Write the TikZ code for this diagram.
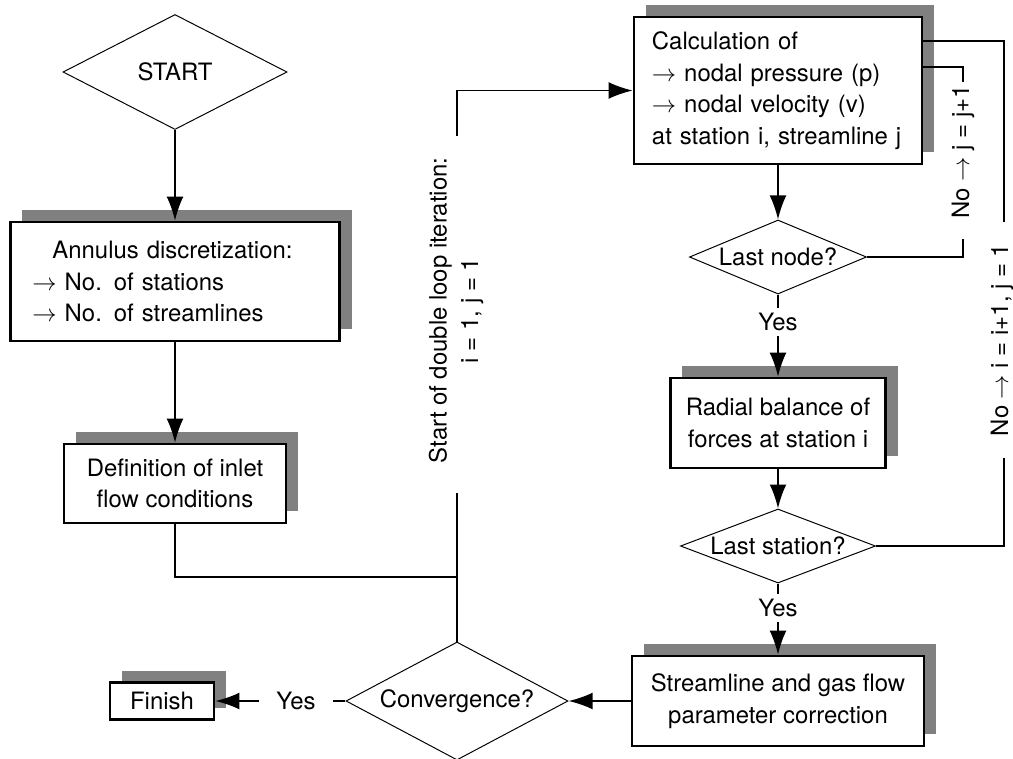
\documentclass[tikz,border=0pt]{standalone}
\usepackage{fontspec}
\setmainfont{TeX Gyre Heros}
\usepackage{tikz}
\usetikzlibrary{arrows.meta,shapes.geometric,shadows,calc}
\definecolor{shadowgray}{HTML}{808080}

\begin{document}
\begin{tikzpicture}
	[
	x=0.025cm, y=-0.025cm,
	every node/.style={font=\fontsize{17}{22.5}\selectfont},
	box/.style={
		draw,
		line width=1.8pt,
		fill=white,
		align=center,
		inner sep=0pt,
		drop shadow={shadow xshift=0.3cm, shadow yshift=0.3cm, fill=shadowgray, opacity=1}
	},
	decision/.style={
		draw,
		diamond,
		line width=0.7pt,
		fill=white,
		inner sep=0pt
	},
	note/.style={
		inner sep=3.5pt
	},
	line/.style={
		line width=1.3pt
	},
	arrow/.style={
		-{Latex[length=6mm,width=4.2mm]},
		line width=1.3pt
	}
	]
	
	\useasboundingbox (0,0) rectangle (1013,758);
	
	% Set-up branch
	\node[decision, aspect=1.95, minimum width=5.6cm, minimum height=2.875cm] (start) at (175,72)
	{START};
	
	\node[box, minimum height=2.975cm, text width=7.125cm, inner xsep=0.55cm, align=left] (annulus) at (175,281.5)
	{\hspace*{0.5cm}Annulus discretization:\\ $\rightarrow$ No. of stations\\ $\rightarrow$ No. of streamlines};
	
	\node[box, minimum width=5.55cm, minimum height=1.975cm] (inlet) at (175,483.5)
	{Definition of inlet\\ flow conditions};
	
	% Double loop branch
	\node[box, minimum height=3.675cm, text width=6.3cm, inner xsep=0.45cm, align=left] (calc) at (778,90.5)
	{Calculation of\\ $\rightarrow$ nodal pressure (p)\\ $\rightarrow$ nodal velocity (v)\\ at station i, streamline j};
	
	\node[decision, aspect=2.39, minimum width=4.425cm, minimum height=1.85cm] (lastnode) at (778,257)
	{Last node?};
	
	\node[note] (yes_node) at (778,322)
	{Yes};
	
	\node[box, minimum width=5.375cm, minimum height=2.25cm] (radial) at (778,423)
	{Radial balance of\\ forces at station i};
	
	\node[decision, aspect=2.64, minimum width=4.875cm, minimum height=1.85cm] (laststation) at (778,546)
	{Last station?};
	
	\node[note] (yes_station) at (778,608)
	{Yes};
	
	\node[box, minimum width=7.3cm, minimum height=2.25cm] (correction) at (778,701)
	{Streamline and gas flow\\ parameter correction};
	
	% Exit
	\node[decision, aspect=1.88, minimum width=5.55cm, minimum height=2.95cm] (convergence) at (457,701)
	{Convergence?};
	
	\node[note, inner xsep=12pt] (yes_conv) at (296,701)
	{Yes};
	
	\node[box, minimum width=2.6cm, minimum height=0.925cm] (finish) at (162,701)
	{Finish};
	
	% Loop labels
	\node[rotate=90, align=center] (loop_start) at (456,310.5)
	{Start of double loop iteration:\\ i = 1, j = 1};
	
	\node[rotate=90] (next_node) at (963,152)
	{No $\rightarrow$ j = j+1};
	
	\node[rotate=90] (next_station) at (1002,340)
	{No $\rightarrow$ i = i+1, j = 1};
	
	\coordinate (loop_join) at (457,577);
	\coordinate (loop_low) at (457,493);
	\coordinate (loop_high) at (457,136);
	\coordinate (node_low) at (963,239);
	\coordinate (node_high) at (963,82);
	\coordinate (station_low) at (1004,458);
	\coordinate (station_high) at (1004,222);
	
	% Arrows
	\draw[arrow] (start.south) -- (annulus.north);
	\draw[arrow] (annulus.south) -- (inlet.north);
	\draw[line] (inlet.south) |- (loop_join);
	\draw[line] (convergence.north) -- (loop_low);
	\draw[arrow] (loop_high) |- (calc.west);
	
	\draw[arrow] (calc.south) -- (lastnode.north);
	\draw[line] (lastnode.south) -- (yes_node.north);
	\draw[arrow] (yes_node.south) -- (radial.north);
	\draw[arrow] (radial.south) -- (laststation.north);
	\draw[line] (laststation.south) -- (yes_station.north);
	\draw[arrow] (yes_station.south) -- (correction.north);
	\draw[arrow] (correction.west) -- (convergence.east);
	\draw[line] (convergence.west) -- (yes_conv.east);
	\draw[arrow] (yes_conv.west) -- (finish.east);
	
	% Return paths
	\draw[line] (lastnode.east) -| (node_low);
	\draw[line] (node_high) |- ($(calc.east)+(0,-23.5)$);
	\draw[line] (laststation.east) -| (station_low);
	\draw[line] (station_high) |- ($(calc.east)+(0,-49.5)$);
	
\end{tikzpicture}
\end{document}
